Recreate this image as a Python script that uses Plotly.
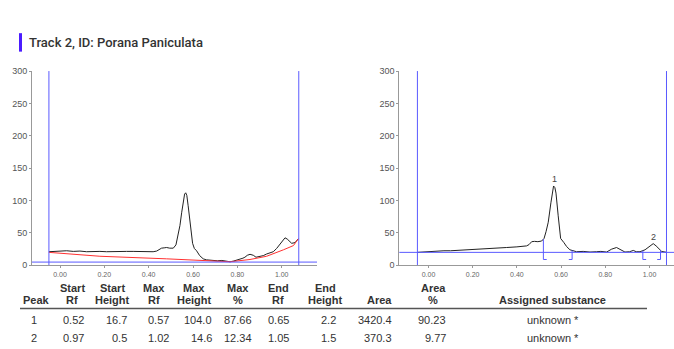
import plotly.graph_objects as go
import numpy as np

W, H = 674, 349

# ---------------- data ----------------
left_rf = [-0.050, -0.02, 0.0, 0.03, 0.06, 0.09, 0.12, 0.15, 0.18, 0.21, 0.24, 0.27, 0.30, 0.33,
           0.36, 0.39, 0.42, 0.436, 0.448, 0.458, 0.47, 0.481, 0.495, 0.505, 0.511, 0.523, 0.532,
           0.541, 0.549, 0.556, 0.562, 0.567, 0.572, 0.578, 0.586, 0.592, 0.598, 0.606, 0.616,
           0.63, 0.646, 0.66, 0.675, 0.691, 0.71, 0.73, 0.752, 0.767, 0.782, 0.80, 0.812, 0.825,
           0.834, 0.845, 0.857, 0.872, 0.884, 0.90, 0.917, 0.932, 0.947, 0.962, 0.977, 0.992,
           1.005, 1.015, 1.025, 1.035, 1.045, 1.06, 1.075]
left_sig = [21, 21.5, 21, 22.5, 21.5, 22, 21, 21.5, 21.5, 21, 21.5, 21, 21.5, 21.5,
            21, 21.5, 21, 22, 25, 26.5, 27, 27.5, 26.5, 27, 26.5, 31.5, 45,
            61.5, 82, 96, 110, 112, 108, 92, 71.5, 50, 34, 26, 22.5,
            15, 10, 8.5, 8, 8, 7, 7.5, 6.5, 5.5, 6.5, 8, 9, 11,
            12.5, 15.5, 17, 15.5, 12.5, 13.5, 15, 17.5, 19, 21, 26, 33,
            39, 42.5, 40.5, 37, 34, 35, 41]

base_rf = [-0.050, 0.180, 0.481, 0.767, 0.857, 0.932, 1.008, 1.053, 1.075]
base_sig = [20, 14, 10, 5.5, 9, 14, 24, 30.5, 41]

right_rf = [-0.051, -0.03, 0.0, 0.03, 0.052, 0.07, 0.10, 0.13, 0.16, 0.203, 0.25, 0.30, 0.354,
            0.40, 0.444, 0.455, 0.467, 0.48, 0.495, 0.512, 0.523, 0.532, 0.542, 0.554, 0.566,
            0.572, 0.577, 0.587, 0.598, 0.613, 0.625, 0.640, 0.655, 0.67, 0.70, 0.731, 0.76,
            0.78, 0.806, 0.829, 0.851, 0.874, 0.889, 0.91, 0.927, 0.94, 0.957, 0.980, 1.0,
            1.017, 1.03, 1.040, 1.055, 1.078]
right_sig = [20, 20.5, 21, 21.5, 21.5, 22.5, 22.5, 23, 23.5, 24, 25, 26, 27.5,
             28.5, 30, 32, 36.5, 37, 36.5, 37.5, 41.5, 52, 66.5, 96.5, 122.5,
             120, 111.5, 76.5, 41.5, 35, 29, 24, 22.5, 21, 21.5, 20.5, 21,
             21.5, 20.5, 25, 27.5, 24, 20.5, 21, 23, 21, 21, 24, 29,
             33.5, 30, 26.5, 21.5, 20]

track_start, track_end = -0.050, 1.077
left_hline = 5
right_hline = 20

peaks = ["1", "2"]
start_rf = ["0.52", "0.97"]
start_h = ["16.7", "0.5"]
max_rf = ["0.57", "1.02"]
max_h = ["104.0", "14.6"]
max_pct = ["87.66", "12.34"]
end_rf = ["0.65", "1.05"]
end_h = ["2.2", "1.5"]
area = ["3420.4", "370.3"]
area_pct = ["90.23", "9.77"]
substance = ["unknown *", "unknown *"]

xticks = [0.0, 0.2, 0.4, 0.6, 0.8, 1.0]
xticktext = ["0.00", "0.20", "0.40", "0.60", "0.80", "1.00"]
yticks = [0, 50, 100, 150, 200, 250, 300]

# ---------------- figure ----------------
BLUE = "#5a5aff"
fig = go.Figure()

fig.add_trace(go.Scatter(x=left_rf, y=left_sig, mode="lines", line=dict(color="#222", width=1),
                         xaxis="x", yaxis="y", showlegend=False, hoverinfo="skip"))
fig.add_trace(go.Scatter(x=base_rf, y=base_sig, mode="lines", line=dict(color="#ff3030", width=1),
                         xaxis="x", yaxis="y", showlegend=False, hoverinfo="skip"))
fig.add_trace(go.Scatter(x=right_rf, y=right_sig, mode="lines", line=dict(color="#222", width=1),
                         xaxis="x2", yaxis="y2", showlegend=False, hoverinfo="skip"))

# brackets for peaks on right plot
foot = 0.015
bottom = 9
for s, e in zip(start_rf, end_rf):
    s, e = float(s), float(e)
    ys = float(np.interp(s, right_rf, right_sig))
    ye = float(np.interp(e, right_rf, right_sig))
    fig.add_trace(go.Scatter(x=[s, s, s + foot], y=[ys, bottom, bottom], mode="lines",
                             line=dict(color=BLUE, width=1), xaxis="x2", yaxis="y2",
                             showlegend=False, hoverinfo="skip"))
    fig.add_trace(go.Scatter(x=[e, e, e - foot], y=[ye, bottom, bottom], mode="lines",
                             line=dict(color=BLUE, width=1), xaxis="x2", yaxis="y2",
                             showlegend=False, hoverinfo="skip"))

# peak labels
for p, mr in zip(peaks, max_rf):
    mr = float(mr)
    pk_idx = int(np.argmin(np.abs(np.array(right_rf) - mr)))
    ymax = max(right_sig[max(0, pk_idx - 2):pk_idx + 3])
    fig.add_annotation(x=mr, y=ymax, xref="x2", yref="y2", text=p, showarrow=False,
                       yanchor="bottom", yshift=0, font=dict(size=9, color="#444", family="Liberation Sans"))

# blue track lines
for xa, ya, hy in [("x", "y", left_hline), ("x2", "y2", right_hline)]:
    for xv in [track_start, track_end]:
        fig.add_shape(type="line", xref=xa, yref=ya, x0=xv, x1=xv, y0=0, y1=300,
                      line=dict(color=BLUE, width=1))
    fig.add_shape(type="line", xref=xa + " domain", yref=ya, x0=0, x1=1, y0=hy, y1=hy,
                  line=dict(color=BLUE, width=1))

axis_common = dict(showgrid=False, zeroline=False, showline=True, linecolor="#999", linewidth=1,
                   ticks="outside", ticklen=2, tickcolor="#999")

fig.update_layout(
    width=W, height=H, margin=dict(l=0, r=0, t=0, b=0),
    paper_bgcolor="white", plot_bgcolor="white",
    xaxis=dict(domain=[32 / W, 317 / W], range=[-0.1263, 1.1592], anchor="y",
               tickvals=xticks, ticktext=xticktext, tickfont=dict(size=7, color="#666", family="Liberation Sans"),
               **axis_common),
    yaxis=dict(domain=[1 - 268 / H, 1 - 68 / H], range=[0, 300], anchor="x",
               tickvals=yticks, tickfont=dict(size=9, color="#555", family="Liberation Sans"),
               **axis_common),
    xaxis2=dict(domain=[399.3 / W, 1], range=[-0.132, 1.111], anchor="y2",
                tickvals=xticks, ticktext=xticktext, tickfont=dict(size=7, color="#666", family="Liberation Sans"),
                **axis_common),
    yaxis2=dict(domain=[1 - 268 / H, 1 - 68 / H], range=[0, 300], anchor="x2",
                tickvals=yticks, tickfont=dict(size=9, color="#555", family="Liberation Sans"),
                **axis_common),
)

# title bar and title
fig.add_shape(type="rect", xref="paper", yref="paper", x0=19 / W, x1=22 / W, y0=1 - 48 / H, y1=1 - 29 / H,
              fillcolor="#4b1cff", line=dict(width=0))
fig.add_annotation(x=27 / W, y=1 - 39 / H, xref="paper", yref="paper", xanchor="left", yanchor="middle",
                   text="Track 2, ID: Porana Paniculata", showarrow=False,
                   font=dict(size=13, color="#333", family="Roboto", weight=500))

# ---------------- table ----------------
def px(x):
    return x / W

def py(y):
    return 1 - y / H

TF = "Liberation Sans"
hdr_font = dict(size=11, color="#333", family=TF)
val_font = dict(size=11, color="#333", family=TF)
dy = 1.5

headers = [
    ("", "Peak", 36),
    ("Start", "Rf", 72),
    ("Start", "Height", 112),
    ("Max", "Rf", 154),
    ("Max", "Height", 194),
    ("Max", "%", 238),
    ("End", "Rf", 278),
    ("End", "Height", 325),
    ("", "Area", 379),
    ("Area", "%", 433),
    ("", "Assigned substance", 552),
]
for l1, l2, cx in headers:
    if l1:
        fig.add_annotation(x=px(cx), y=py(290 + dy), xref="paper", yref="paper", text="<b>" + l1 + "</b>",
                           showarrow=False, xanchor="center", yanchor="middle", font=hdr_font)
    fig.add_annotation(x=px(cx), y=py(302 + dy), xref="paper", yref="paper", text="<b>" + l2 + "</b>",
                       showarrow=False, xanchor="center", yanchor="middle", font=hdr_font)

fig.add_shape(type="line", xref="paper", yref="paper", x0=px(20), x1=px(647), y0=py(312.5), y1=py(312.5),
              line=dict(color="#555", width=1.5))

cols = [(peaks, 39), (start_rf, 86), (start_h, 129), (max_rf, 171), (max_h, 214), (max_pct, 254),
        (end_rf, 291), (end_h, 338), (area, 394), (area_pct, 448)]
row_y = [323.3 + dy, 341 + dy]
for vals, rx in cols:
    for v, ry in zip(vals, row_y):
        fig.add_annotation(x=px(rx), y=py(ry), xref="paper", yref="paper", text=v, showarrow=False,
                           xanchor="right", yanchor="middle", font=val_font)
for v, ry in zip(substance, row_y):
    fig.add_annotation(x=px(553), y=py(ry), xref="paper", yref="paper", text=v, showarrow=False,
                       xanchor="center", yanchor="middle", font=val_font)

fig.write_html("out.html")
